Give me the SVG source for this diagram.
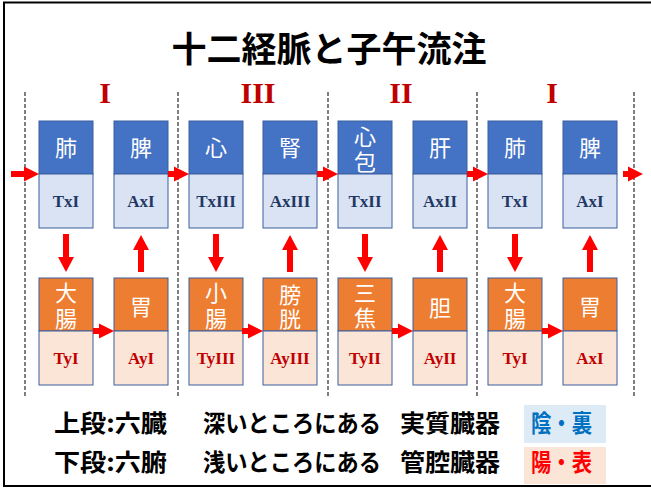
<svg xmlns="http://www.w3.org/2000/svg" width="651" height="488" viewBox="0 0 651 488">
<style>
.frame{fill:none;stroke:#000;stroke-width:2}
.dash{stroke:#7f7f7f;stroke-width:2;stroke-dasharray:4 2;fill:none}
.yin{fill:#4472c4;stroke:#3b5f9e;stroke-width:1}
.yinL{fill:#dae3f3;stroke:#3b5f9e;stroke-width:1}
.yang{fill:#ed7d31;stroke:#3b5f9e;stroke-width:1}
.yangL{fill:#fbe5d6;stroke:#3b5f9e;stroke-width:1}
.org{font-family:"Noto Sans CJK JP","Noto Sans",sans-serif;font-size:22px;fill:#fff;text-anchor:middle}
.cy{font-family:"Liberation Serif","Times New Roman",serif;font-weight:bold;font-size:17px;fill:#1f3864;text-anchor:middle}
.cr{font-family:"Liberation Serif","Times New Roman",serif;font-weight:bold;font-size:17px;fill:#c00000;text-anchor:middle}
.rom{font-family:"Liberation Serif","Times New Roman",serif;font-weight:bold;font-size:30px;fill:#c00000;text-anchor:middle}
.title{font-family:"Noto Sans CJK JP","Noto Sans",sans-serif;font-weight:bold;font-size:35px;fill:#000;text-anchor:middle}
.leg{font-family:"Noto Sans CJK JP","Noto Sans",sans-serif;font-weight:bold;font-size:24px;fill:#000}
.arr{fill:#ff0000}
</style>
<path class="frame" d="M4,487 V2.5 H651 M3,486 H651"/>
<text class="title" x="329" y="62">十二経脈と子午流注</text>
<g id="numerals">
<text class="rom" x="105" y="103">I</text>
<text class="rom" x="258" y="103">III</text>
<text class="rom" x="401" y="103">II</text>
<text class="rom" x="552" y="103">I</text>
</g>
<g id="dividers">
<line class="dash" x1="25" y1="92" x2="25" y2="398"/>
<line class="dash" x1="178" y1="92" x2="178" y2="398"/>
<line class="dash" x1="328" y1="92" x2="328" y2="398"/>
<line class="dash" x1="477" y1="92" x2="477" y2="398"/>
<line class="dash" x1="634" y1="92" x2="634" y2="398"/>
</g>
<g id="n-lung1"><rect class="yin" x="39" y="121" width="54" height="53"/><rect class="yinL" x="39" y="174" width="54" height="54"/><text class="org" x="66" y="156">肺</text><text class="cy" x="66" y="207">TxI</text></g>
<g id="n-spleen1"><rect class="yin" x="114" y="121" width="54" height="53"/><rect class="yinL" x="114" y="174" width="54" height="54"/><text class="org" x="141" y="156">脾</text><text class="cy" x="141" y="207">AxI</text></g>
<g id="n-heart"><rect class="yin" x="189" y="121" width="54" height="53"/><rect class="yinL" x="189" y="174" width="54" height="54"/><text class="org" x="216" y="156">心</text><text class="cy" x="216" y="207">TxIII</text></g>
<g id="n-kidney"><rect class="yin" x="263" y="121" width="54" height="53"/><rect class="yinL" x="263" y="174" width="54" height="54"/><text class="org" x="290" y="156">腎</text><text class="cy" x="290" y="207">AxIII</text></g>
<g id="n-pericardium"><rect class="yin" x="338" y="121" width="54" height="53"/><rect class="yinL" x="338" y="174" width="54" height="54"/><text class="org" x="365" y="145">心<tspan x="365" dy="25">包</tspan></text><text class="cy" x="365" y="207">TxII</text></g>
<g id="n-liver"><rect class="yin" x="413" y="121" width="54" height="53"/><rect class="yinL" x="413" y="174" width="54" height="54"/><text class="org" x="440" y="156">肝</text><text class="cy" x="440" y="207">AxII</text></g>
<g id="n-lung2"><rect class="yin" x="488" y="121" width="54" height="53"/><rect class="yinL" x="488" y="174" width="54" height="54"/><text class="org" x="515" y="156">肺</text><text class="cy" x="515" y="207">TxI</text></g>
<g id="n-spleen2"><rect class="yin" x="563" y="121" width="54" height="53"/><rect class="yinL" x="563" y="174" width="54" height="54"/><text class="org" x="590" y="156">脾</text><text class="cy" x="590" y="207">AxI</text></g>

<g id="n-li1"><rect class="yang" x="39" y="278" width="54" height="53"/><rect class="yangL" x="39" y="331" width="54" height="54"/><text class="org" x="66" y="301">大<tspan x="66" dy="26">腸</tspan></text><text class="cr" x="66" y="364">TyI</text></g>
<g id="n-st1"><rect class="yang" x="114" y="278" width="54" height="53"/><rect class="yangL" x="114" y="331" width="54" height="54"/><text class="org" x="141" y="315">胃</text><text class="cr" x="141" y="364">AyI</text></g>
<g id="n-si"><rect class="yang" x="189" y="278" width="54" height="53"/><rect class="yangL" x="189" y="331" width="54" height="54"/><text class="org" x="216" y="301">小<tspan x="216" dy="26">腸</tspan></text><text class="cr" x="216" y="364">TyIII</text></g>
<g id="n-bladder"><rect class="yang" x="263" y="278" width="54" height="53"/><rect class="yangL" x="263" y="331" width="54" height="54"/><text class="org" x="290" y="303">膀<tspan x="290" dy="24">胱</tspan></text><text class="cr" x="290" y="364">AyIII</text></g>
<g id="n-tw"><rect class="yang" x="338" y="278" width="54" height="53"/><rect class="yangL" x="338" y="331" width="54" height="54"/><text class="org" x="365" y="301">三<tspan x="365" dy="25">焦</tspan></text><text class="cr" x="365" y="364">TyII</text></g>
<g id="n-gb"><rect class="yang" x="413" y="278" width="54" height="53"/><rect class="yangL" x="413" y="331" width="54" height="54"/><text class="org" x="440" y="316">胆</text><text class="cr" x="440" y="364">AyII</text></g>
<g id="n-li2"><rect class="yang" x="488" y="278" width="54" height="53"/><rect class="yangL" x="488" y="331" width="54" height="54"/><text class="org" x="515" y="301">大<tspan x="515" dy="26">腸</tspan></text><text class="cr" x="515" y="364">TyI</text></g>
<g id="n-st2"><rect class="yang" x="563" y="278" width="54" height="53"/><rect class="yangL" x="563" y="331" width="54" height="54"/><text class="org" x="590" y="315">胃</text><text class="cr" x="590" y="364">AxI</text></g>

<g id="connectors" class="arr">
<polygon points="11,171 24,171 24,166.5 39,174 24,181.5 24,177 11,177"/>
<polygon points="168,171 174,171 174,166.5 189,174 174,181.5 174,177 168,177"/>
<polygon points="317,171 323,171 323,166.5 338,174 323,181.5 323,177 317,177"/>
<polygon points="467,171 473,171 473,166.5 488,174 473,181.5 473,177 467,177"/>
<polygon points="623,171 628,171 628,166.5 643,174 628,181.5 628,177 623,177"/>
<polygon points="93,328 99,328 99,323.5 114,331 99,338.5 99,334 93,334"/>
<polygon points="242,328 248,328 248,323.5 263,331 248,338.5 248,334 242,334"/>
<polygon points="392,328 398,328 398,323.5 413,331 398,338.5 398,334 392,334"/>
<polygon points="542,328 548,328 548,323.5 563,331 548,338.5 548,334 542,334"/>
<polygon points="63,234 69,234 69,257 74,257 66,272 58,257 63,257"/>
<polygon points="213,234 219,234 219,257 224,257 216,272 208,257 213,257"/>
<polygon points="362,234 368,234 368,257 373,257 365,272 357,257 362,257"/>
<polygon points="512,234 518,234 518,257 523,257 515,272 507,257 512,257"/>
<polygon points="138,272 144,272 144,250 149,250 141,235 133,250 138,250"/>
<polygon points="287,272 293,272 293,250 298,250 290,235 282,250 287,250"/>
<polygon points="437,272 443,272 443,250 448,250 440,235 432,250 437,250"/>
<polygon points="587,272 593,272 593,250 598,250 590,235 582,250 587,250"/>
</g>

<g id="legend">
<text class="leg" x="54" y="432" textLength="113" lengthAdjust="spacingAndGlyphs">上段:六臓</text>
<text class="leg" x="203" y="432" textLength="178" lengthAdjust="spacingAndGlyphs">深いところにある</text>
<text class="leg" x="400" y="432" textLength="100" lengthAdjust="spacingAndGlyphs">実質臓器</text>
<text class="leg" x="54" y="471" textLength="113" lengthAdjust="spacingAndGlyphs">下段:六腑</text>
<text class="leg" x="203" y="471" textLength="178" lengthAdjust="spacingAndGlyphs">浅いところにある</text>
<text class="leg" x="400" y="471" textLength="100" lengthAdjust="spacingAndGlyphs">管腔臓器</text>
<rect x="524" y="405" width="82" height="38" fill="#ddebf7"/>
<text class="leg" x="531" y="432" textLength="61" lengthAdjust="spacingAndGlyphs" style="fill:#0070c0">陰・裏</text>
<rect x="524" y="447" width="82" height="37" fill="#fbe5d6"/>
<text class="leg" x="531" y="471" textLength="61" lengthAdjust="spacingAndGlyphs" style="fill:#ff0000">陽・表</text>
</g>
</svg>
